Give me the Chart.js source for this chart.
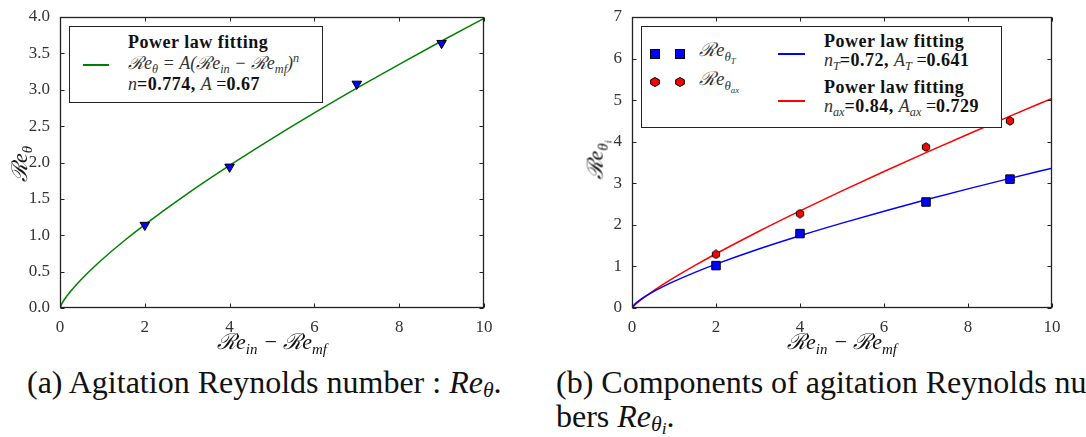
<!DOCTYPE html>
<html>
<head>
<meta charset="utf-8">
<script src="https://cdn.jsdelivr.net/npm/chart.js@4.4.1/dist/chart.umd.min.js"></script>
<style>
  html, body { margin: 0; padding: 0; background: #fff; }
  body { width: 1086px; height: 437px; overflow: hidden; position: relative; font-family: "Liberation Serif", serif; color: #111; }
  .panel { position: absolute; top: 0; width: 543px; height: 350px; }
  .leg { position: absolute; border: 1.5px solid #222; background: #fff; box-sizing: border-box; }
  .ls { position: absolute; height: 1.5px; }
  .t { position: absolute; white-space: nowrap; font-size: 18px; line-height: 21px; }
  .b { font-weight: bold; letter-spacing: 0.5px; }
  .m { font-style: italic; color: #333; }
  b { letter-spacing: 0.5px; }
  sub, sup { font-size: 68%; line-height: 0; }
  sub { vertical-align: -0.35em; }
  sup { vertical-align: 0.55em; }
  .axl { position: absolute; white-space: nowrap; font-size: 22px; line-height: 24px; font-style: italic; color: #111; transform: translate(-50%, -50%); }
  .axl.rot { transform: translate(-50%, -50%) rotate(-90deg); }
  .cap { position: absolute; white-space: nowrap; font-size: 32px; line-height: 34px; color: #111; }
  .cap sub { vertical-align: -0.2em; }
  .cap sub sub { vertical-align: -0.15em; font-size: 80%; }
</style>
</head>
<body>
<div class="panel" style="left:0"><canvas id="chartA" width="543" height="350"></canvas></div>
<div class="panel" style="left:543px"><canvas id="chartB" width="543" height="350"></canvas></div>

<!-- legend (a) -->
<div class="leg" style="left:69px;top:26px;width:254px;height:77px">
  <div class="ls" style="left:13px;top:37px;width:26px;background:#008000"></div>
  <div class="t" style="left:58px;top:5px">
    <div class="b">Power law fitting</div>
    <div class="m">ℛe<sub>θ</sub> = A(ℛe<sub>in</sub> − ℛe<sub>mf</sub>)<sup>n</sup></div>
    <div><i class="m">n</i><b>=0.774, </b><i class="m">A</i> =<b>0.67</b></div>
  </div>
</div>

<!-- legend (b) -->
<div class="leg" style="left:641px;top:26px;width:361px;height:102px">
  <svg style="position:absolute;left:8px;top:22px" width="10" height="10"><rect x="0.5" y="0.5" width="9" height="9" fill="#0000ff" stroke="#000" stroke-width="1"/></svg>
  <svg style="position:absolute;left:33px;top:22px" width="10" height="10"><rect x="0.5" y="0.5" width="9" height="9" fill="#0000ff" stroke="#000" stroke-width="1"/></svg>
  <svg style="position:absolute;left:8px;top:50px" width="10" height="10"><polygon points="5,0.5 9.3,2.8 9.3,7.2 5,9.5 0.7,7.2 0.7,2.8" fill="#ff0000" stroke="#000" stroke-width="1"/></svg>
  <svg style="position:absolute;left:33px;top:50px" width="10" height="10"><polygon points="5,0.5 9.3,2.8 9.3,7.2 5,9.5 0.7,7.2 0.7,2.8" fill="#ff0000" stroke="#000" stroke-width="1"/></svg>
  <div class="t m" style="left:57px;top:12px;font-size:19px">ℛe<sub>θ<sub>T</sub></sub></div>
  <div class="t m" style="left:57px;top:41px;font-size:19px">ℛe<sub>θ<sub>ax</sub></sub></div>
  <div class="ls" style="left:136px;top:26px;width:27px;background:#0000ff"></div>
  <div class="ls" style="left:136px;top:73px;width:27px;background:#ff0000"></div>
  <div class="t" style="left:182px;top:5px;line-height:19px">
    <div class="b">Power law fitting</div>
    <div><i class="m">n<sub>T</sub></i><b>=0.72, </b><i class="m">A<sub>T</sub></i> =<b>0.641</b></div>
  </div>
  <div class="t" style="left:182px;top:51px;line-height:19px">
    <div class="b">Power law fitting</div>
    <div><i class="m">n<sub>ax</sub></i><b>=0.84, </b><i class="m">A<sub>ax</sub></i> =<b>0.729</b></div>
  </div>
</div>

<!-- axis titles -->
<div class="axl" style="left:272px;top:342px">ℛe<sub>in</sub> − ℛe<sub>mf</sub></div>
<div class="axl" style="left:842px;top:342px">ℛe<sub>in</sub> − ℛe<sub>mf</sub></div>
<div class="axl rot" style="left:20px;top:164px">ℛe<sub>θ</sub></div>
<div class="axl rot" style="left:596px;top:160px">ℛe<sub>θ<sub>i</sub></sub></div>

<!-- captions -->
<div class="cap" style="left:27px;top:365px">(a) Agitation Reynolds number : <i>Re<sub>θ</sub></i>.</div>
<div class="cap" style="left:556px;top:365px">(b) Components of agitation Reynolds num-<br>bers <i>Re<sub>θ<sub>i</sub></sub></i>.</div>

<script>
// measured points
const expX = [2, 4, 7, 9];
const reTheta = [1.14, 1.94, 3.08, 3.64];
const reThetaT = [1.02, 1.79, 2.55, 3.10];
const reThetaAx = [1.29, 2.27, 3.87, 4.50];

// fitted curves
const fitX = [0, 0.05, 0.1, 0.25, 0.5, 0.75, 1, 1.5, 2, 3, 4, 5, 6, 7, 8, 9, 10];
const fitReTheta = [0, 0.066, 0.113, 0.229, 0.392, 0.536, 0.670, 0.917, 1.146, 1.568, 1.959, 2.328, 2.681, 3.021, 3.350, 3.670, 3.982];
const fitReThetaT = [0, 0.074, 0.122, 0.236, 0.389, 0.521, 0.641, 0.858, 1.056, 1.414, 1.739, 2.042, 2.329, 2.602, 2.865, 3.118, 3.364];
const fitReThetaAx = [0, 0.059, 0.105, 0.227, 0.407, 0.572, 0.729, 1.025, 1.305, 1.834, 2.336, 2.818, 3.284, 3.738, 4.181, 4.617, 5.043];

function pts(xs, ys) {
    return xs.map((x, i) => ({ x: x, y: ys[i] }));
}

// small hexagon marker
const hex = document.createElement('canvas');
hex.width = 10; hex.height = 10;
(function () {
    const c = hex.getContext('2d');
    c.beginPath();
    for (let k = 0; k < 6; k++) {
        const a = k * Math.PI / 3 - Math.PI / 2;
        const px = 5 + 4.2 * Math.cos(a), py = 5 + 4.2 * Math.sin(a);
        if (k === 0) c.moveTo(px, py); else c.lineTo(px, py);
    }
    c.closePath();
    c.fillStyle = '#ff0000';
    c.fill();
    c.strokeStyle = '#000';
    c.lineWidth = 1;
    c.stroke();
})();

// frame + inward ticks on all four sides
const frameTicks = {
    id: 'frameTicks',
    afterDraw(chart) {
        const { ctx, chartArea: a, scales } = chart;
        const L = Math.round(a.left) + 0.5, R = Math.round(a.right) - 0.5;
        const T = Math.round(a.top) + 0.5, B = Math.round(a.bottom) - 0.5;
        ctx.save();
        ctx.strokeStyle = '#222';
        ctx.lineWidth = 1;
        ctx.beginPath();
        scales.x.ticks.forEach(t => {
            const px = Math.round(scales.x.getPixelForValue(t.value)) + 0.5;
            ctx.moveTo(px, B); ctx.lineTo(px, B - 4);
            ctx.moveTo(px, T); ctx.lineTo(px, T + 4);
        });
        scales.y.ticks.forEach(t => {
            const py = Math.round(scales.y.getPixelForValue(t.value)) + 0.5;
            ctx.moveTo(L, py); ctx.lineTo(L + 4, py);
            ctx.moveTo(R, py); ctx.lineTo(R - 4, py);
        });
        ctx.stroke();
        ctx.lineWidth = 1.3;
        ctx.strokeRect(L, T, R - L, B - T);
        ctx.restore();
    }
};

const tickFont = { family: '"Liberation Serif", serif', size: 17 };

function makeOptions(yMax, yStep, yWidth, padRight, yFmt) {
    return {
        responsive: false,
        animation: false,
        layout: { padding: { left: 0, top: 17, right: padRight, bottom: 0 } },
        plugins: { legend: { display: false }, tooltip: { enabled: false } },
        scales: {
            x: {
                type: 'linear',
                min: 0, max: 10,
                grid: { display: false },
                border: { display: false },
                ticks: { stepSize: 2, font: tickFont, color: '#333', padding: 1, maxRotation: 0 },
                afterFit: s => { s.height = 42; }
            },
            y: {
                type: 'linear',
                min: 0, max: yMax,
                grid: { display: false },
                border: { display: false },
                ticks: { stepSize: yStep, font: tickFont, color: '#333', padding: 2, callback: yFmt },
                afterFit: s => { s.width = yWidth; }
            }
        }
    };
}

new Chart(document.getElementById('chartA').getContext('2d'), {
    type: 'scatter',
    data: {
        datasets: [{
            label: 'Re_theta',
            data: pts(expX, reTheta),
            pointStyle: 'triangle',
            rotation: 180,
            radius: 5.5,
            backgroundColor: '#0000ff',
            borderColor: '#000',
            borderWidth: 1
        }, {
            label: 'Power law fitting',
            data: pts(fitX, fitReTheta),
            showLine: true,
            pointRadius: 0,
            borderColor: '#008000',
            borderWidth: 1.5,
            cubicInterpolationMode: 'monotone'
        }]
    },
    options: makeOptions(4, 0.5, 60, 59, v => v.toFixed(1)),
    plugins: [frameTicks]
});

new Chart(document.getElementById('chartB').getContext('2d'), {
    type: 'scatter',
    data: {
        datasets: [{
            label: 'Re_theta_T',
            data: pts(expX, reThetaT),
            pointStyle: 'rect',
            radius: 6,
            backgroundColor: '#0000ff',
            borderColor: '#000',
            borderWidth: 1
        }, {
            label: 'Re_theta_ax',
            data: pts(expX, reThetaAx),
            pointStyle: hex
        }, {
            label: 'Power law fitting T',
            data: pts(fitX, fitReThetaT),
            showLine: true,
            pointRadius: 0,
            borderColor: '#0000ff',
            borderWidth: 1.5,
            cubicInterpolationMode: 'monotone'
        }, {
            label: 'Power law fitting ax',
            data: pts(fitX, fitReThetaAx),
            showLine: true,
            pointRadius: 0,
            borderColor: '#ff0000',
            borderWidth: 1.5,
            cubicInterpolationMode: 'monotone'
        }]
    },
    options: makeOptions(7, 1, 89, 34, v => String(v)),
    plugins: [frameTicks]
});
</script>
</body>
</html>
